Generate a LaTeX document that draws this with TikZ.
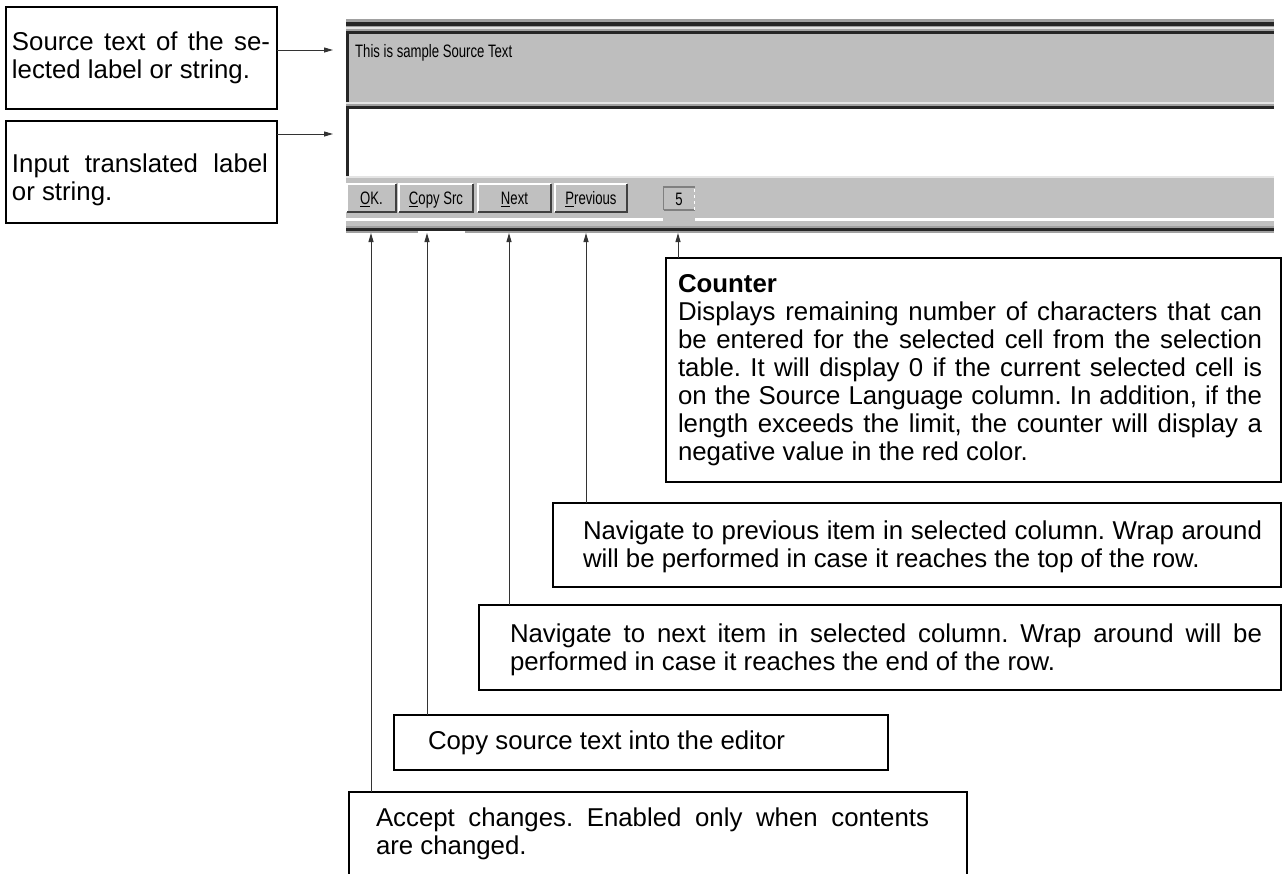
\documentclass[tikz,border=0pt]{standalone}
\usepackage{fontspec}
\usepackage{graphicx}
\setmainfont{Liberation Sans}
\usetikzlibrary{arrows.meta}
\frenchspacing
\definecolor{panelgray}{HTML}{BEBEBE}
\definecolor{bargray}{HTML}{C0C0C0}
\definecolor{framedark}{HTML}{262626}
\definecolor{framemid}{HTML}{A0A0A0}
\definecolor{framelight}{HTML}{E4E4E4}
\definecolor{btnshadow}{HTML}{404040}
\definecolor{connector}{HTML}{333333}
\newcommand{\uitext}[1]{\scalebox{0.73}[1]{\fontsize{18}{20}\selectfont #1}}
\newcommand{\jline}[2]{\makebox[#1][s]{#2}}
\begin{document}
\begin{tikzpicture}[x=1pt,y=-1pt,
  callout/.style={draw=black, line width=2.2pt, anchor=north west, inner sep=0pt, outer sep=0pt},
  note/.style={anchor=base west, inner sep=0pt, outer sep=0pt, font=\fontsize{25.8}{28}\selectfont},
  conn/.style={draw=connector, line width=1pt, -{Triangle[length=9pt,width=5pt]}},
  btn/.style={fill=bargray, minimum height=28pt, inner sep=0pt, outer sep=0pt, text height=13pt, text depth=0pt}]
\useasboundingbox (0,0) rectangle (1282,873);
\clip (0,0) rectangle (1282,873);

% ---------- screenshot ----------
\fill[framemid] (346,19) rectangle (1274,21.5);
\fill[framedark] (346,21.5) rectangle (1274,25.5);
\fill[framemid] (346,25.5) rectangle (1274,27);
\fill[framelight] (346,27) rectangle (1274,29);
\fill[framemid] (346,29) rectangle (1274,30.5);
\fill[framedark] (346,30.5) rectangle (1274,33.5);
\node[fill=panelgray, minimum width=928pt, minimum height=68pt, anchor=north west, inner sep=0pt, outer sep=0pt] (srcfield) at (346,33.5) {};
\fill[framedark] (346,30.5) rectangle (349,101.5);
\node[anchor=base west, inner sep=0pt] (srctext) at (355,57) {\uitext{This is sample Source Text}};
\fill[framelight] (346,101.5) rectangle (1274,103.5);
\fill[framemid] (346,103.5) rectangle (1274,106);
\fill[framedark] (346,106) rectangle (1274,109);
\node[fill=white, minimum width=928pt, minimum height=67pt, anchor=north west, inner sep=0pt, outer sep=0pt] (edit) at (346,109) {};
\fill[framedark] (346,106) rectangle (349,176);
\fill[framelight] (346,176) rectangle (1274,178);
\fill[bargray] (346,178) rectangle (1274,226);
\fill[white] (346,218) rectangle (663,220.5);
\fill[white] (695,218) rectangle (1274,220.5);
\fill[framemid] (346,226) rectangle (1274,227.5);
\fill[framedark] (346,227.5) rectangle (1274,230.5);
\fill[framemid] (346,230.5) rectangle (418,232.5);
\fill[framemid] (465,230.5) rectangle (1274,232.5);

% buttons
\node[btn, minimum width=49pt] (ok) at (371.5,198) {\uitext{\underline{O}K.}};
\node[btn, minimum width=74pt] (cpy) at (436,198) {\uitext{\underline{C}opy Src}};
\node[btn, minimum width=73pt] (nxt) at (514.5,198) {\uitext{\underline{N}ext}};
\node[btn, minimum width=72pt] (prv) at (591,198) {\uitext{\underline{P}revious}};
\foreach \b in {ok,cpy,nxt,prv}{
  \draw[white, line width=1.5pt] (\b.south west) |- (\b.north east);
  \draw[btnshadow, line width=2pt] (\b.south west) -| (\b.north east);
}
\node[fill=bargray, minimum width=31pt, minimum height=23pt, inner sep=0pt, outer sep=0pt, text height=13pt, text depth=0pt] (cnt) at (679,198.5) {\uitext{5}};
\draw[gray, line width=1.2pt] (cnt.south west) -- (cnt.north west) -- (cnt.north east);
\draw[gray, line width=1.2pt] (cnt.south west) -- (cnt.south east);
\draw[white, line width=1.2pt, dashed] (cnt.south east) -- (cnt.north east);

% ---------- callout boxes ----------
\node[callout, minimum width=271pt, minimum height=102pt] (b1) at (6,7) {};
\node[note] (t1) at (12,50) {\parbox[t]{258pt}{\jline{258pt}{Source text of the se-}\\lected label or string.}};
\node[callout, minimum width=271pt, minimum height=102pt] (b2) at (6,121) {};
\node[note] (t2) at (12,172) {\parbox[t]{256pt}{\jline{256pt}{Input translated label}\\or string.}};

\node[callout, minimum width=615pt, minimum height=224pt] (bc) at (666,258) {};
\node[note] (tc) at (678,292) {\parbox[t]{584pt}{\textbf{Counter}\\
\jline{584pt}{Displays remaining number of characters that can}\\
\jline{584pt}{be entered for the selected cell from the selection}\\
\jline{584pt}{table. It will display 0 if the current selected cell is}\\
\jline{584pt}{on the Source Language column. In addition, if the}\\
\jline{584pt}{length exceeds the limit, the counter will display a}\\
negative value in the red color.}};

\node[callout, minimum width=728pt, minimum height=84pt] (bp) at (553,503) {};
\node[note] (tp) at (583,539) {\parbox[t]{679pt}{\jline{679pt}{Navigate to previous item in selected column. Wrap around}\\will be performed in case it reaches the top of the row.}};

\node[callout, minimum width=802pt, minimum height=85pt] (bn) at (479,605) {};
\node[note] (tn) at (510,642) {\parbox[t]{752pt}{\jline{752pt}{Navigate to next item in selected column. Wrap around will be}\\performed in case it reaches the end of the row.}};

\node[callout, minimum width=494pt, minimum height=55pt] (bcp) at (394,715) {};
\node[note] (tcp) at (428,749) {Copy source text into the editor};

\node[callout, minimum width=618pt, minimum height=120pt] (ba) at (349,792) {};
\node[note] (ta) at (376,826) {\parbox[t]{553pt}{\jline{553pt}{Accept changes. Enabled only when contents}\\are changed.}};

% ---------- connectors ----------
\coordinate (inSrc) at (333,50);
\coordinate (inEdit) at (333,134);
\coordinate (tipOK) at (371,233);
\coordinate (tipCopy) at (427,233);
\coordinate (tipNext) at (509,233);
\coordinate (tipPrev) at (586,233);
\coordinate (tipCnt) at (678,233);
\draw[conn] (b1.east |- inSrc) -- (inSrc);
\draw[conn] (b2.east |- inEdit) -- (inEdit);
\draw[conn] (ba.north -| tipOK) -- (tipOK);
\draw[conn] (bcp.north -| tipCopy) -- (tipCopy);
\draw[conn] (bn.north -| tipNext) -- (tipNext);
\draw[conn] (bp.north -| tipPrev) -- (tipPrev);
\draw[conn] (bc.north -| tipCnt) -- (tipCnt);
\end{tikzpicture}
\end{document}
